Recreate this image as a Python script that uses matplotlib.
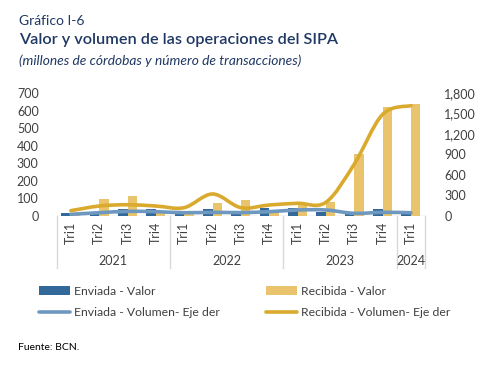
import matplotlib
matplotlib.use("Agg")
import matplotlib.pyplot as plt
from matplotlib.path import Path
from matplotlib.patches import PathPatch, Patch
from matplotlib.lines import Line2D
import matplotlib.transforms as mtrans
import numpy as np

quarters = ["Tri1", "Tri2", "Tri3", "Tri4",
            "Tri1", "Tri2", "Tri3", "Tri4",
            "Tri1", "Tri2", "Tri3", "Tri4",
            "Tri1"]
years = ["2021", "2022", "2023", "2024"]
year_sizes = [4, 4, 4, 1]

enviada_valor = [15, 25, 40, 40, 25, 40, 25, 43, 48, 25, 10, 37, 15]
recibida_valor = [12, 98, 115, 25, 12, 72, 90, 35, 62, 82, 352, 622, 640]
enviada_volumen = [25, 48, 68, 63, 48, 54, 50, 63, 88, 88, 39, 54, 48]
recibida_volumen = [78, 146, 165, 146, 122, 322, 122, 161, 186, 200, 757, 1485, 1615]

C_BAR_BLUE = "#33699A"
C_BAR_GOLD = "#E9C46C"
C_LINE_BLUE = "#6E98BF"
C_LINE_GOLD = "#DAAA2E"
C_TEXT = "#404040"
C_TITLE = "#1F3864"
C_GRID = "#D9D9D9"

FONT = "Lato"

W, H = 479, 377
fig = plt.figure(figsize=(W / 100, H / 100), dpi=100)

ax_l = fig.add_axes([56.7 / W, (H - 216) / H, (425 - 56.7) / W, 123 / H])
ax_r = ax_l.twinx()

n = len(quarters)
x = np.arange(n)
bw = 0.34
ax_l.bar(x - 0.17, enviada_valor, bw, color=C_BAR_BLUE, zorder=2)
ax_l.bar(x + 0.17, recibida_valor, bw, color=C_BAR_GOLD, zorder=2)


def smooth_path(xs, ys):
    xs = np.asarray(xs, float)
    ys = np.asarray(ys, float)
    pts = np.column_stack([xs, ys])
    verts = [pts[0]]
    codes = [Path.MOVETO]
    for i in range(len(pts) - 1):
        p0 = pts[i - 1] if i > 0 else pts[i]
        p1 = pts[i]
        p2 = pts[i + 1]
        p3 = pts[i + 2] if i + 2 < len(pts) else pts[i + 1]
        c1 = p1 + (p2 - p0) / 6.0
        c2 = p2 - (p3 - p1) / 6.0
        verts += [c1, c2, p2]
        codes += [Path.CURVE4] * 3
    return Path(verts, codes)


for vals, col in [(enviada_volumen, C_LINE_BLUE), (recibida_volumen, C_LINE_GOLD)]:
    patch = PathPatch(smooth_path(x, vals), facecolor="none", edgecolor=col,
                      lw=2.6, capstyle="round", joinstyle="round", zorder=3)
    ax_r.add_patch(patch)

ax_l.set_xlim(-0.5, n - 0.5)
ax_l.set_ylim(0, 700)
ax_r.set_ylim(0, 1800)
ax_l.set_yticks(np.arange(0, 701, 100))
ax_r.set_yticks(np.arange(0, 1801, 300))
ax_r.set_yticklabels([f"{v:,}" for v in range(0, 1801, 300)])

for a in (ax_l, ax_r):
    for s in a.spines.values():
        s.set_visible(False)
    a.tick_params(axis="y", length=0, labelsize=9, labelcolor=C_TEXT)
    for lab in a.get_yticklabels():
        lab.set_fontfamily(FONT)
ax_l.tick_params(axis="y", pad=13)
ax_r.tick_params(axis="y", pad=14)

ax_l.set_xticks(x)
ax_l.set_xticklabels(quarters, rotation=90, fontsize=9, color=C_TEXT, family=FONT)
ax_l.tick_params(axis="x", length=0, pad=4)

# baseline
ax_l.axhline(0, color=C_GRID, lw=1, zorder=1)

# year group separators & labels
trans = mtrans.blended_transform_factory(ax_l.transData, fig.transFigure)
y_top = (H - 216) / H
y_bot = (H - 268) / H
bounds = [-0.5]
for s in year_sizes:
    bounds.append(bounds[-1] + s)
for b in bounds:
    fig.add_artist(Line2D([b, b], [y_top, y_bot], transform=trans, color=C_GRID, lw=1))
for i, yr in enumerate(years):
    cx = (bounds[i] + bounds[i + 1]) / 2
    fig.text(cx, (H - 261) / H, yr, transform=trans, ha="center", va="center",
             fontsize=9, color=C_TEXT, family=FONT)

# titles
fig.text(19 / W, 1 - 21 / H, "Gráfico I-6", fontsize=10, color=C_TITLE,
         family=FONT, va="center", ha="left")
fig.text(19 / W, 1 - 40 / H, "Valor y volumen de las operaciones del SIPA",
         fontsize=11.7, color=C_TITLE, family=FONT, weight="semibold",
         va="center", ha="left")
fig.text(19 / W, 1 - 61 / H, "(millones de córdobas y número de transacciones)",
         fontsize=9.9, color=C_TITLE, family=FONT, style="italic",
         va="center", ha="left")

# legend (column-major order so rows read: bars, then lines)
handles = [
    Patch(facecolor=C_BAR_BLUE, edgecolor="none"),
    Line2D([], [], color=C_LINE_BLUE, lw=2.6, solid_capstyle="round"),
    Patch(facecolor=C_BAR_GOLD, edgecolor="none"),
    Line2D([], [], color=C_LINE_GOLD, lw=2.6, solid_capstyle="round"),
]
labels = ["Enviada - Valor", "Enviada - Volumen- Eje der",
          "Recibida - Valor", "Recibida - Volumen- Eje der"]
leg = fig.legend(handles, labels, loc="center left",
                 bbox_to_anchor=(39 / W, 1 - 302 / H), ncol=2, frameon=False,
                 prop={"family": FONT, "size": 8.8}, handlelength=2.55,
                 handleheight=0.8, handletextpad=0.3, columnspacing=3.8,
                 labelspacing=0.85, borderpad=0, borderaxespad=0)
for t in leg.get_texts():
    t.set_color(C_TEXT)

fig.text(18 / W, 1 - 347 / H, "Fuente: BCN.", fontsize=7.5, color="#000000",
         family=FONT, va="center", ha="left")

fig.savefig("out.png", dpi=100)
